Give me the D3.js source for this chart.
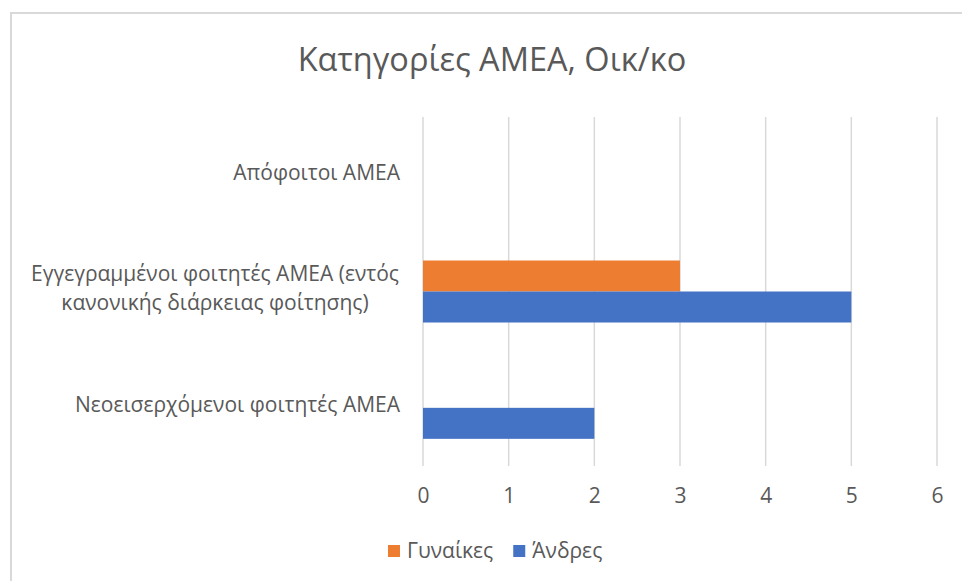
<!DOCTYPE html>
<html>
<head>
<meta charset="utf-8">
<script src="https://cdn.jsdelivr.net/npm/d3@7"></script>
<style>
  body { margin: 0; background: #fff; }
  svg { display: block; font-family: "Open Sans", sans-serif; }
</style>
</head>
<body>
<svg id="chart" width="962" height="581"></svg>
<script>
// data, categories listed top to bottom as drawn
const categories = [
  "Απόφοιτοι ΑΜΕΑ",
  "Εγγεγραμμένοι φοιτητές ΑΜΕΑ (εντός κανονικής διάρκειας φοίτησης)",
  "Νεοεισερχόμενοι φοιτητές ΑΜΕΑ"
];
const categoryLines = [
  ["Απόφοιτοι ΑΜΕΑ"],
  ["Εγγεγραμμένοι φοιτητές ΑΜΕΑ (εντός", "κανονικής διάρκειας φοίτησης)"],
  ["Νεοεισερχόμενοι φοιτητές ΑΜΕΑ"]
];
const seriesNames = ["Γυναίκες", "Άνδρες"];
const women = [0, 3, 0];
const men = [0, 5, 2];
const xTicks = [0, 1, 2, 3, 4, 5, 6];
const title = "Κατηγορίες ΑΜΕΑ, Οικ/κο";

const colors = { "Γυναίκες": "#ED7D31", "Άνδρες": "#4472C4" };
const textColor = "#595959";
const gridColor = "#d9d9d9";
const fs = 21;

const svg = d3.select("#chart");

// outer chart border
svg.append("rect")
   .attr("x", 11).attr("y", 13)
   .attr("width", 980).attr("height", 600)
   .attr("fill", "none")
   .attr("stroke", gridColor)
   .attr("stroke-width", 2);

const plot = { left: 423, right: 937, top: 117, bottom: 466 };

const x = d3.scaleLinear()
            .domain([0, 6])
            .range([plot.left, plot.right]);

const pad = 0.467;
const y = d3.scaleBand()
            .domain(categories)
            .range([plot.top, plot.bottom])
            .paddingInner(pad)
            .paddingOuter(pad / 2);

const ySub = d3.scaleBand()
               .domain(seriesNames)
               .range([0, y.bandwidth()]);

// title
svg.append("text")
   .attr("x", 492).attr("y", 71)
   .attr("text-anchor", "middle")
   .attr("fill", textColor)
   .attr("font-size", 32.5)
   .text(title);

// gridlines
svg.append("g")
   .selectAll("line")
   .data(xTicks)
   .join("line")
   .attr("x1", d => x(d)).attr("x2", d => x(d))
   .attr("y1", plot.top).attr("y2", plot.bottom)
   .attr("stroke", gridColor)
   .attr("stroke-width", 1.5);

// bars
const rows = categories.map((c, i) => ({ cat: c, values: [
  { name: "Γυναίκες", value: women[i] },
  { name: "Άνδρες", value: men[i] }
]}));

const groups = svg.append("g")
  .selectAll("g")
  .data(rows)
  .join("g")
  .attr("transform", d => `translate(0,${y(d.cat)})`);

groups.selectAll("rect")
  .data(d => d.values.filter(v => v.value > 0))
  .join("rect")
  .attr("x", x(0))
  .attr("y", d => ySub(d.name))
  .attr("width", d => x(d.value) - x(0))
  .attr("height", ySub.bandwidth())
  .attr("fill", d => colors[d.name]);

// x axis labels
const xAxis = svg.append("g")
  .attr("transform", `translate(0,${plot.bottom})`)
  .call(d3.axisBottom(x).tickValues(xTicks).tickFormat(d3.format("d")).tickSize(0).tickPadding(22));
xAxis.select(".domain").remove();
xAxis.selectAll("text")
  .attr("fill", textColor)
  .attr("font-size", fs)
  .attr("font-family", "Open Sans, sans-serif");

// category labels
const labels = svg.append("g");
categories.forEach((c, i) => {
  const lines = categoryLines[i];
  const cy = y(c) + y.bandwidth() / 2;
  const lh = 29;
  const t = labels.append("text")
    .attr("fill", textColor)
    .attr("font-size", fs);
  const multi = lines.length > 1;
  lines.forEach((ln, j) => {
    t.append("tspan")
      .attr("x", multi ? 215 : 400)
      .attr("text-anchor", multi ? "middle" : "end")
      .attr("y", cy - 3 + (j - (lines.length - 1) / 2) * lh)
      .attr("dy", "0.35em")
      .text(ln);
  });
});

// legend
const legend = svg.append("g").attr("transform", "translate(388,551)");
let lx = 0;
seriesNames.forEach(name => {
  const g = legend.append("g").attr("transform", `translate(${lx},0)`);
  g.append("rect")
    .attr("x", 0).attr("y", -6)
    .attr("width", 12).attr("height", 12)
    .attr("fill", colors[name]);
  const t = g.append("text")
    .attr("x", 19).attr("y", 0).attr("dy", "0.35em")
    .attr("fill", textColor)
    .attr("font-size", fs)
    .text(name);
  lx += 19 + t.node().getComputedTextLength() + 20;
});
</script>
</body>
</html>
